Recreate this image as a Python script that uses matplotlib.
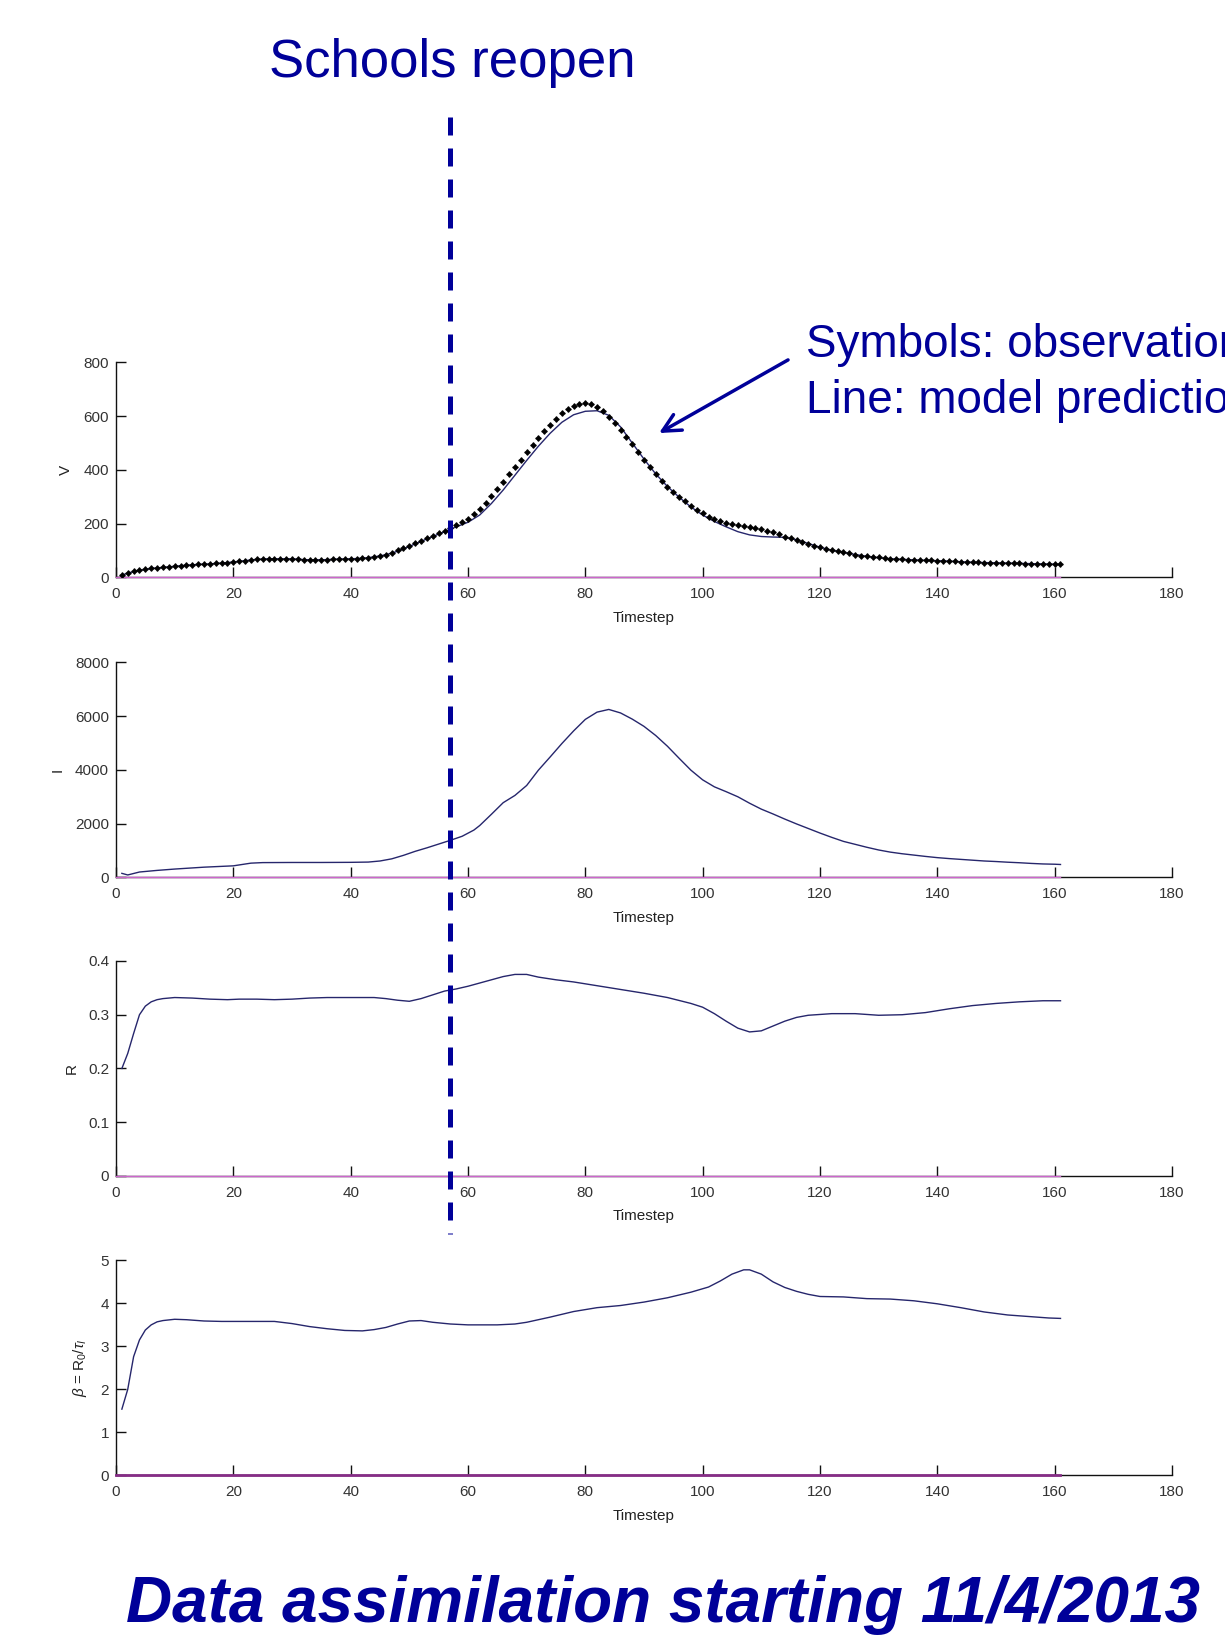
import numpy as np
import matplotlib
matplotlib.use('Agg')
import matplotlib.pyplot as plt
from matplotlib.lines import Line2D
from matplotlib.transforms import blended_transform_factory

plt.rcParams['font.family'] = ['Liberation Sans', 'DejaVu Sans']
plt.rcParams['mathtext.fontset'] = 'custom'
plt.rcParams['mathtext.rm'] = 'Liberation Sans'
plt.rcParams['mathtext.it'] = 'Liberation Sans:italic'

# observed V, one value per timestep starting at t=1
v_obs = [10, 16, 22, 26, 30, 33, 35, 37, 39, 41, 43, 45, 47, 48, 49, 50, 52, 53, 55, 57,
         59, 62, 65, 67, 69, 69, 69, 69, 69, 69, 68, 66, 65, 65, 65, 66, 67, 68, 68, 69,
         70, 71, 73, 76, 79, 85, 92, 100, 108, 118, 128, 137, 146, 155, 164, 174, 184, 194, 205, 218,
         235, 255, 278, 302, 328, 355, 383, 410, 437, 465, 492, 518, 543, 567, 590, 610, 627, 638, 645, 648,
         645, 635, 618, 597, 575, 550, 523, 495, 465, 437, 410, 385, 360, 338, 318, 300, 283, 267, 252, 238,
         226, 216, 208, 202, 198, 195, 192, 189, 185, 180, 174, 167, 160, 152, 145, 138, 131, 124, 118, 112,
         106, 101, 97, 93, 89, 85, 81, 78, 75, 74, 72, 70, 68, 67, 66, 65, 64, 63, 63, 62,
         61, 60, 59, 58, 57, 56, 56, 55, 55, 54, 54, 53, 52, 52, 51, 51, 50, 50, 49, 48, 48]
t_obs = np.arange(1, len(v_obs) + 1)

# model prediction of V
t_vm = [1, 2, 4, 6, 8, 10, 12, 14, 16, 18, 20, 22, 24, 26, 28, 30, 32, 34, 36, 38, 40, 42, 44, 46,
        48, 50, 52, 54, 56, 58, 60, 62, 64, 66, 68, 70, 72, 74, 76, 78, 80, 82, 84, 86, 88, 90,
        92, 94, 96, 98, 100, 102, 104, 106, 108, 110, 112, 114, 116, 118, 120, 122, 124, 126,
        128, 130, 132, 134, 136, 138, 140, 142, 144, 146, 148, 150, 152, 154, 156, 158, 161]
v_model = [8, 16, 26, 33, 37, 41, 45, 48, 50, 53, 57, 62, 67, 69, 69, 69, 66, 65, 66, 68, 69, 71, 76, 84,
           97, 115, 134, 152, 170, 188, 205, 232, 275, 325, 380, 435, 488, 536, 577, 605, 618, 620, 603, 560,
           500, 440, 385, 338, 298, 262, 232, 208, 188, 170, 158, 152, 150, 149, 140, 126, 112, 101, 93, 85,
           78, 73, 69, 67, 65, 63, 62, 60, 58, 56, 55, 54, 53, 52, 51, 50, 48]

# I
t_i = [1, 2, 4, 7, 10, 15, 20, 23, 25, 30, 35, 40, 43, 45, 47, 49, 51, 53, 55, 57, 59, 61, 62, 64,
       66, 68, 70, 72, 74, 76, 78, 80, 82, 84, 86, 88, 90, 92, 94, 96, 98, 100, 102, 104, 106, 108,
       110, 112, 114, 116, 118, 120, 122, 124, 126, 128, 130, 132, 134, 136, 138, 140, 142, 144, 146,
       148, 150, 152, 154, 156, 158, 160, 161]
i_vals = [150, 90, 200, 260, 310, 380, 430, 530, 550, 555, 555, 560, 570, 610, 690, 820, 970, 1100, 1240,
          1380, 1530, 1760, 1930, 2350, 2780, 3050, 3420, 3990, 4480, 4980, 5450, 5880, 6150, 6250, 6120,
          5890, 5620, 5280, 4880, 4430, 3990, 3630, 3370, 3190, 3000, 2760, 2540, 2360, 2170, 1990, 1820,
          1650, 1490, 1340, 1230, 1120, 1020, 940, 880, 830, 780, 735, 700, 670, 640, 610, 590, 565, 545,
          520, 500, 490, 480]

# R
t_r = [1, 2, 3, 4, 5, 6, 7, 8, 10, 13, 16, 19, 21, 24, 27, 30, 33, 36, 40, 44, 46, 48, 50, 52, 54, 56,
       58, 60, 62, 64, 66, 68, 70, 72, 75, 78, 82, 86, 90, 94, 98, 100, 102, 104, 106, 108, 110, 112,
       114, 116, 118, 122, 126, 130, 134, 138, 142, 146, 150, 154, 158, 161]
r_vals = [0.200, 0.228, 0.265, 0.300, 0.316, 0.324, 0.328, 0.330, 0.332, 0.331, 0.329, 0.328, 0.329,
          0.329, 0.328, 0.329, 0.331, 0.332, 0.332, 0.332, 0.330, 0.327, 0.325, 0.330, 0.337, 0.344,
          0.348, 0.353, 0.359, 0.365, 0.371, 0.375, 0.375, 0.370, 0.365, 0.361, 0.354, 0.347, 0.340,
          0.332, 0.321, 0.314, 0.302, 0.288, 0.275, 0.268, 0.270, 0.279, 0.288, 0.295, 0.299, 0.302,
          0.302, 0.299, 0.300, 0.304, 0.311, 0.317, 0.321, 0.324, 0.326, 0.326]

# beta = R0 / tau_I
t_b = [1, 2, 3, 4, 5, 6, 7, 8, 10, 12, 15, 18, 22, 27, 30, 33, 36, 39, 42, 44, 46, 48, 50, 52, 54, 57,
       60, 65, 68, 70, 74, 78, 82, 86, 90, 94, 98, 101, 103, 105, 107, 108, 110, 112, 114, 116, 118,
       120, 124, 128, 132, 136, 140, 144, 148, 152, 156, 159, 161]
b_vals = [1.54, 2.0, 2.76, 3.15, 3.38, 3.50, 3.57, 3.60, 3.63, 3.62, 3.59, 3.58, 3.58, 3.58, 3.53, 3.46,
          3.41, 3.37, 3.36, 3.39, 3.44, 3.52, 3.59, 3.60, 3.56, 3.52, 3.50, 3.50, 3.52, 3.56, 3.68, 3.81,
          3.90, 3.95, 4.03, 4.13, 4.26, 4.38, 4.52, 4.68, 4.78, 4.78, 4.68, 4.50, 4.37, 4.28, 4.21, 4.16,
          4.15, 4.11, 4.10, 4.06, 3.99, 3.90, 3.80, 3.73, 3.69, 3.66, 3.65]

x_ticks = list(range(0, 181, 20))
panel_labels = ['V', 'I', 'R', r'$\beta$ = R$_0$/$\tau_I$']
panel_yticks = [[0, 200, 400, 600, 800],
                [0, 2000, 4000, 6000, 8000],
                [0, 0.1, 0.2, 0.3, 0.4],
                [0, 1, 2, 3, 4, 5]]
label_x = [-0.047, -0.055, -0.042, -0.034]
school_t = 57

navy = '#000099'
line_c = '#26266c'

fig = plt.figure(figsize=(12.25, 16.36), dpi=100)
bottoms = [0.6471, 0.4637, 0.2812, 0.0982]
axes = []
for k, b in enumerate(bottoms):
    ax = fig.add_axes([0.0947, b, 0.862, 0.1314])
    axes.append(ax)
    ax.set_xlim(0, 180)
    ax.set_ylim(panel_yticks[k][0], panel_yticks[k][-1])
    ax.set_xticks(x_ticks)
    ax.set_yticks(panel_yticks[k])
    ax.set_yticklabels([('%g' % v) for v in panel_yticks[k]])
    for s in ['top', 'right']:
        ax.spines[s].set_visible(False)
    for s in ['left', 'bottom']:
        ax.spines[s].set_linewidth(1.0)
        ax.spines[s].set_color('#111111')
    ax.tick_params(direction='in', length=7.5, width=1.0, labelsize=11,
                   labelcolor='#333333', color='#111111')
    ax.tick_params(axis='x', pad=7)
    ax.tick_params(axis='y', pad=5)
    ax.set_xlabel('Timestep', fontsize=11, color='#222222', labelpad=7)
    ax.set_ylabel(panel_labels[k], fontsize=11, color='#222222', va='center')
    ax.yaxis.set_label_coords(label_x[k], 0.5)
    zc, zw = ('#cc66cc', 1.0) if k < 3 else ('#862d86', 2.0)
    ax.plot([0, 161], [0, 0], color=zc, lw=zw, clip_on=False, zorder=3)

axes[0].plot(t_vm, v_model, color=line_c, lw=1.0, zorder=4)
axes[0].plot(t_obs, v_obs, linestyle='none', marker='D', ms=2.4, color='black', zorder=5)
axes[0].plot(t_obs, v_obs, linestyle='none', marker='+', ms=5, mew=1.0, color='black', zorder=5)
axes[1].plot(t_i, i_vals, color=line_c, lw=1.0, zorder=4)
axes[2].plot(t_r, r_vals, color=line_c, lw=1.0, zorder=4)
axes[3].plot(t_b, b_vals, color=line_c, lw=1.0, zorder=4)

# dashed "schools reopen" line across panels
trans = blended_transform_factory(axes[0].transData, fig.transFigure)
fig.add_artist(Line2D([school_t, school_t], [0.9285, 0.2457], transform=trans,
                      color=navy, lw=3.6, dashes=(3.6, 2.6), zorder=10))

fig.text(0.369, 0.953, 'Schools reopen', fontsize=38, color=navy,
         ha='center', va='baseline')
fig.text(0.658, 0.782, 'Symbols: observations', fontsize=33, color=navy,
         ha='left', va='baseline')
fig.text(0.658, 0.7474, 'Line: model predictions', fontsize=33, color=navy,
         ha='left', va='baseline')
axes[0].annotate('', xy=(0.538, 0.7353), xycoords='figure fraction',
                 xytext=(0.6433, 0.78), textcoords='figure fraction',
                 arrowprops=dict(arrowstyle='->', color=navy, lw=2.5,
                                 mutation_scale=32, shrinkA=0, shrinkB=0))
fig.text(0.541, 0.0086, 'Data assimilation starting 11/4/2013', fontsize=46,
         color=navy, fontweight='bold', fontstyle='italic',
         ha='center', va='baseline')

fig.savefig('out.png', dpi=100)
